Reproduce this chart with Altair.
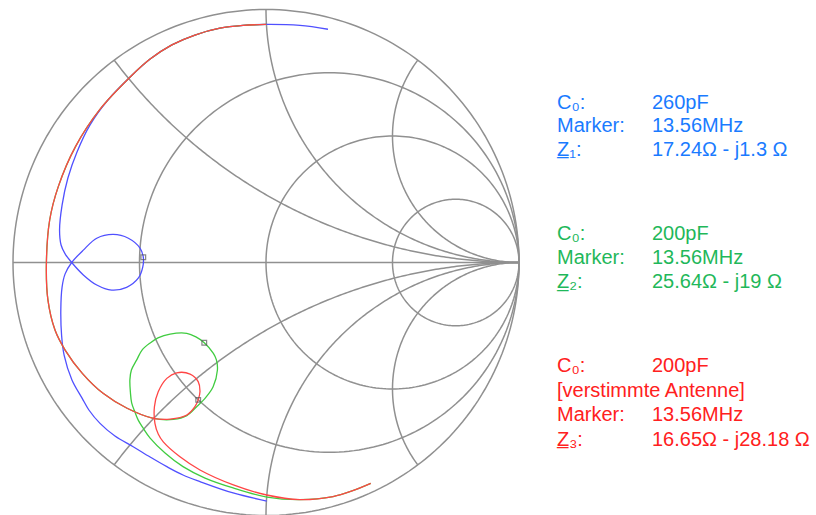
import altair as alt
import numpy as np
import pandas as pd

# ---------------- Smith chart grid values ----------------
R_CIRCLES = [0.0, 1 / 3, 1.0, 3.0]          # constant-resistance circles
X_ARCS = [0.5, 1.0, 2.0, -0.5, -1.0, -2.0]  # constant-reactance arcs

# ---------------- reflection-coefficient traces ----------------
common_re = [0.001, -0.091, -0.182, -0.281, -0.372, -0.458, -0.536, -0.658, -0.753, -0.821,
             -0.855, -0.868, -0.862, -0.834, -0.794, -0.726, -0.644, -0.549, -0.445]
common_im = [0.941, 0.937, 0.926, 0.899, 0.860, 0.804, 0.734, 0.603, 0.458, 0.300,
             0.168, -0.003, -0.148, -0.267, -0.346, -0.438, -0.517, -0.576, -0.616]

green_tail_re = [-0.366, -0.313, -0.274, -0.237, -0.209, -0.192, -0.196, -0.208, -0.244, -0.277,
                 -0.313, -0.379, -0.427, -0.458, -0.490, -0.511, -0.532, -0.538, -0.536, -0.531,
                 -0.518, -0.505, -0.486, -0.458, -0.399, -0.328, -0.241, -0.130, 0.004, 0.134,
                 0.265, 0.340, 0.414]
green_tail_im = [-0.620, -0.605, -0.570, -0.532, -0.491, -0.425, -0.385, -0.359, -0.317, -0.294,
                 -0.280, -0.283, -0.298, -0.318, -0.346, -0.385, -0.425, -0.464, -0.512, -0.555,
                 -0.591, -0.623, -0.654, -0.694, -0.753, -0.807, -0.852, -0.891, -0.927, -0.937,
                 -0.925, -0.903, -0.873]

red_tail_re = [-0.379, -0.313, -0.281, -0.268, -0.261, -0.268, -0.300, -0.353, -0.392, -0.426,
               -0.441, -0.439, -0.426, -0.406, -0.340, -0.261, -0.129, 0.003, 0.134, 0.265,
               0.340, 0.414]
red_tail_im = [-0.619, -0.603, -0.570, -0.543, -0.511, -0.471, -0.441, -0.436, -0.458, -0.511,
               -0.570, -0.636, -0.678, -0.709, -0.768, -0.820, -0.879, -0.919, -0.937, -0.925,
               -0.903, -0.873]

blue_re = [0.245, 0.134, 0.000, -0.091, -0.182, -0.281, -0.372, -0.458, -0.536,
           -0.625, -0.696, -0.747, -0.783, -0.806, -0.816, -0.810, -0.794, -0.768,
           -0.722, -0.669, -0.610, -0.551, -0.505, -0.487, -0.485, -0.498, -0.544, -0.604,
           -0.669, -0.722, -0.768,
           -0.794, -0.806, -0.811, -0.808, -0.798, -0.767, -0.727, -0.700, -0.656, -0.597,
           -0.525, -0.458, -0.392, -0.328, -0.261, -0.130, 0.003]
blue_im = [0.922, 0.937, 0.941, 0.937, 0.926, 0.899, 0.860, 0.804, 0.734,
           0.642, 0.543, 0.437, 0.334, 0.227, 0.128, 0.069, 0.034, 0.000,
           -0.049, -0.089, -0.109, -0.098, -0.062, -0.017, 0.021, 0.057, 0.096, 0.111,
           0.096, 0.049, 0.000,
           -0.045, -0.097, -0.188, -0.287, -0.366, -0.464, -0.536, -0.583, -0.636, -0.686,
           -0.728, -0.769, -0.807, -0.840, -0.866, -0.911, -0.943]

green_re = common_re + green_tail_re
green_im = common_im + green_tail_im
red_re = common_re + red_tail_re
red_im = common_im + red_tail_im

# markers at 13.56 MHz
marker_series = ["blue", "green", "red"]
marker_re = [-0.485, -0.244, -0.268]
marker_im = [0.021, -0.317, -0.543]

# annotation texts
blue_labels = ["C\u2080:", "Marker:", "Z\u0332\u2081:"]
blue_values = ["260pF", "13.56MHz", "17.24\u03a9 - j1.3 \u03a9"]
green_labels = ["C\u2080:", "Marker:", "Z\u0332\u2082:"]
green_values = ["200pF", "13.56MHz", "25.64\u03a9 - j19 \u03a9"]
red_labels = ["C\u2080:", "[verstimmte Antenne]", "Marker:", "Z\u0332\u2083:"]
red_values = ["200pF", "", "13.56MHz", "16.65\u03a9 - j28.18 \u03a9"]

# ---------------- styles ----------------
LINE_COLORS = {"blue": "#5050FF", "green": "#40CC40", "red": "#FF4545"}
TEXT_COLORS = {"blue": "#1A7BFF", "green": "#1FB85A", "red": "#FF2020"}
GRID_COLOR = "#909090"
PAD_LEFT, PAD_TOP = 13, 9.5
SIZE = 506
LABEL_X, VALUE_X = 557, 652
ROW_Y = {"blue": [108.5, 132, 155.5], "green": [239.5, 264, 288],
         "red": [372, 397, 421.3, 445.6]}
FONT = "Liberation Sans"
FONT_SIZE = 20

# ---------------- grid geometry ----------------
grid_rows = []
gid = 0
for r in R_CIRCLES:
    cx, rad = r / (1 + r), 1 / (1 + r)
    for k, a in enumerate(np.linspace(0, 2 * np.pi, 241)):
        grid_rows.append({"g": gid, "o": k, "re": cx + rad * np.cos(a), "im": rad * np.sin(a)})
    gid += 1
for x in X_ARCS:
    cx, cy, rad = 1.0, 1 / x, 1 / abs(x)
    ix, iy = (x * x - 1) / (x * x + 1), 2 * x / (x * x + 1)
    a0 = -np.pi / 2 if x > 0 else np.pi / 2
    a1 = np.arctan2(iy - cy, ix - cx)
    if x > 0:
        while a1 > a0:
            a1 -= 2 * np.pi
    else:
        while a1 < a0:
            a1 += 2 * np.pi
    for k, a in enumerate(np.linspace(a0, a1, 181)):
        grid_rows.append({"g": gid, "o": k, "re": cx + rad * np.cos(a), "im": cy + rad * np.sin(a)})
    gid += 1
for k, v in enumerate([-1.0, 1.0]):
    grid_rows.append({"g": gid, "o": k, "re": v, "im": 0.0})
grid_df = pd.DataFrame(grid_rows)

xs = alt.Scale(domain=[-1, 1], nice=False, zero=False)
ys = alt.Scale(domain=[-1, 1], nice=False, zero=False)

grid = alt.Chart(grid_df).mark_line(color=GRID_COLOR, strokeWidth=1.5).encode(
    x=alt.X("re:Q", scale=xs, axis=None),
    y=alt.Y("im:Q", scale=ys, axis=None),
    detail="g:N",
    order="o:Q",
)

def trace(name, re, im):
    assert len(re) == len(im)
    df = pd.DataFrame({"re": re, "im": im, "o": range(len(re))})
    return alt.Chart(df).mark_line(color=LINE_COLORS[name], strokeWidth=1.3,
                                   interpolate="catmull-rom").encode(
        x=alt.X("re:Q", scale=xs, axis=None),
        y=alt.Y("im:Q", scale=ys, axis=None),
        order="o:Q",
    )

markers = alt.Chart(pd.DataFrame({"s": marker_series, "re": marker_re, "im": marker_im})).mark_point(
    shape="square", filled=False, size=22, color="#555555", strokeWidth=1.2
).encode(
    x=alt.X("re:Q", scale=xs, axis=None),
    y=alt.Y("im:Q", scale=ys, axis=None),
)

text_rows = []
for name, labels, values in [("blue", blue_labels, blue_values),
                             ("green", green_labels, green_values),
                             ("red", red_labels, red_values)]:
    for i, (lab, val) in enumerate(zip(labels, values)):
        y = ROW_Y[name][i] - PAD_TOP
        text_rows.append({"t": lab, "px": LABEL_X - PAD_LEFT, "py": y, "c": TEXT_COLORS[name]})
        if val:
            text_rows.append({"t": val, "px": VALUE_X - PAD_LEFT, "py": y, "c": TEXT_COLORS[name]})
text_df = pd.DataFrame(text_rows)

texts = alt.Chart(text_df).mark_text(
    align="left", baseline="alphabetic", font=FONT, fontSize=FONT_SIZE
).encode(
    x=alt.X("px:Q", scale=None, axis=None),
    y=alt.Y("py:Q", scale=None, axis=None),
    text="t:N",
    color=alt.Color("c:N", scale=None, legend=None),
)

chart = alt.layer(
    grid,
    trace("blue", blue_re, blue_im),
    trace("green", green_re, green_im),
    trace("red", red_re, red_im),
    markers,
    texts,
).properties(
    width=SIZE, height=SIZE,
    padding={"left": PAD_LEFT, "top": PAD_TOP, "right": 816 - PAD_LEFT - SIZE, "bottom": 0},
    autosize=alt.AutoSizeParams(type="none"),
    background="white",
).configure_view(stroke=None)

chart.save("out.html", embed_options={"renderer": "svg", "actions": False})
